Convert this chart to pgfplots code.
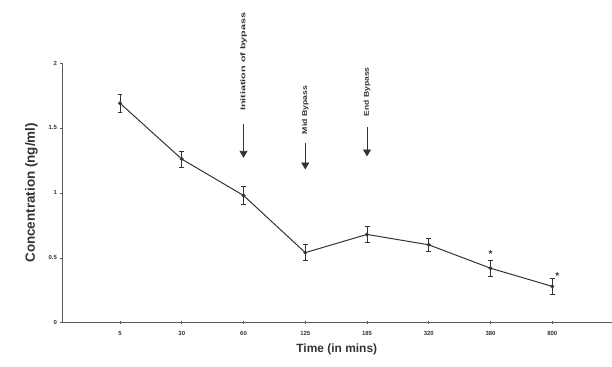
\documentclass[border=0pt]{standalone}
\usepackage{pgfplots}
\pgfplotsset{compat=1.18}
\usepackage{fontspec}
\setmainfont{Liberation Sans}
\usetikzlibrary{arrows.meta}
\definecolor{ln}{HTML}{333333}
\definecolor{ax}{HTML}{5A5A5A}
\begin{document}
\begin{tikzpicture}
\begin{axis}[
  name=ax,
  scale only axis,
  width=550bp, height=260bp,
  xmin=0.06, xmax=8.96,
  ymin=0, ymax=2,
  axis lines=left,
  axis line style={ax, -, line width=0.9pt},
  xtick={1,...,8},
  xticklabels={5,30,60,125,185,320,380,800},
  ytick={0,0.5,1,1.5,2},
  yticklabels={0,0.5,1,1.5,2},
  tick style={ax, line width=0.6pt},
  major tick length=3pt,
  tick align=center,
  tick label style={font=\fontsize{6}{7}\selectfont\bfseries, text=ln},
  /pgf/number format/assume math mode=true,
  xticklabel style={yshift=-4pt},
  xlabel={\textbf{Time (in mins)}},
  ylabel={\textbf{Concentration (ng/ml)}},
  xlabel style={font=\fontsize{12}{13}\selectfont, text=ln, yshift=-1pt},
  ylabel style={font=\fontsize{13.5}{14}\selectfont, text=ln, yshift=4pt},
  clip=false,
]
\addplot[ln, line width=1pt, mark=*, mark size=1.4pt,
  error bars/.cd, y dir=both, y explicit,
  error bar style={ln, line width=0.7pt},
  error mark options={rotate=90, mark size=2.5pt, ln, line width=0.7pt}]
coordinates {
 (1,1.69) +- (0,0.07)
 (2,1.26) +- (0,0.06)
 (3,0.98) +- (0,0.07)
 (4,0.54) +- (0,0.06)
 (5,0.68) +- (0,0.06)
 (6,0.60) +- (0,0.05)
 (7,0.42) +- (0,0.06)
 (8,0.28) +- (0,0.06)
};
% annotations
\node[rotate=90, anchor=west, font=\fontsize{7}{8}\selectfont\bfseries, text=ln, inner sep=0pt] at (axis cs:3,1.63) {\scalebox{1.55}[1]{Initiation of bypass}};
\draw[ln, line width=0.9pt, -{Triangle[width=8pt,length=7pt]}] (axis cs:3,1.53) -- (axis cs:3,1.27);
\node[rotate=90, anchor=west, font=\fontsize{7}{8}\selectfont\bfseries, text=ln, inner sep=0pt] at (axis cs:4,1.45) {\scalebox{1.25}[1]{Mid Bypass}};
\draw[ln, line width=0.9pt, -{Triangle[width=8pt,length=7pt]}] (axis cs:4,1.38) -- (axis cs:4,1.18);
\node[rotate=90, anchor=west, font=\fontsize{7}{8}\selectfont\bfseries, text=ln, inner sep=0pt] at (axis cs:5,1.59) {\scalebox{1.22}[1]{End Bypass}};
\draw[ln, line width=0.9pt, -{Triangle[width=8pt,length=7pt]}] (axis cs:5,1.51) -- (axis cs:5,1.28);
\node[font=\fontsize{10}{10}\selectfont\bfseries, text=ln] at (axis cs:7,0.53) {*};
\node[font=\fontsize{10}{10}\selectfont\bfseries, text=ln] at (axis cs:8.08,0.36) {*};
\end{axis}
\path ([xshift=-62bp,yshift=-44bp]ax.south west) rectangle ([yshift=63bp]ax.north east);
\end{tikzpicture}
\end{document}
